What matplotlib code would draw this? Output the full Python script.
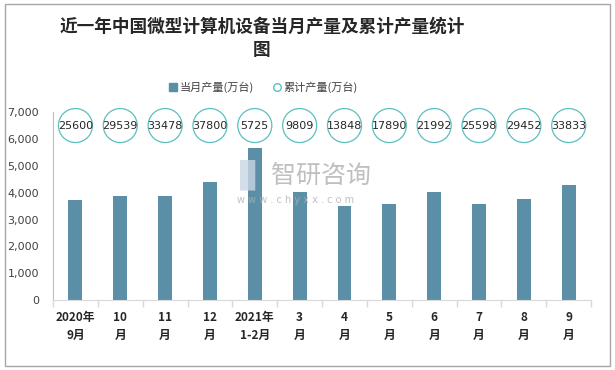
import matplotlib
matplotlib.use('Agg')
import matplotlib.pyplot as plt
from matplotlib.lines import Line2D
from matplotlib.patches import Rectangle

plt.rcParams['font.family'] = ['Noto Sans CJK SC', 'DejaVu Sans']

# data
months = ['2020年\n9月', '10\n月', '11\n月', '12\n月', '2021年\n1-2月', '3\n月',
          '4\n月', '5\n月', '6\n月', '7\n月', '8\n月', '9\n月']
monthly = [3740, 3890, 3890, 4410, 5670, 4010, 3520, 3560, 4040, 3560, 3780, 4300]
cumulative = [25600, 29539, 33478, 37800, 5725, 9809, 13848, 17890, 21992, 25598, 29452, 33833]

bar_color = '#5b8fa8'
circle_color = '#5bbfbf'
axis_color = '#d9d9d9'

fig = plt.figure(figsize=(6.15, 3.7), dpi=100)
fig.patches.append(Rectangle((0.008, 0.012), 0.984, 0.976, transform=fig.transFigure,
                             fill=False, edgecolor='#a6a6a6', linewidth=1))

ax = fig.add_axes([0.0862, 0.189, 0.875, 0.508])
x = list(range(len(months)))
ax.bar(x, monthly, width=0.31, color=bar_color, zorder=2)

# cumulative values shown as circles in a row near the top
circle_y = [6500] * len(cumulative)
ax.scatter(x, circle_y, s=600, facecolors='none', edgecolors=circle_color,
           linewidths=0.9, zorder=3, clip_on=False)
for xi, v in zip(x, cumulative):
    ax.text(xi, 6500, str(v), ha='center', va='center', fontsize=8,
            color='#262626', family='DejaVu Sans', zorder=4)

ax.set_xlim(-0.5, len(months) - 0.5)
ax.set_ylim(0, 7000)
ax.set_yticks(range(0, 7001, 1000))
ax.set_yticklabels(['{:,}'.format(v) for v in range(0, 7001, 1000)],
                   fontsize=8, color='#404040', family='DejaVu Sans')
ax.set_xticks(x)
ax.set_xticklabels(months, fontsize=8.5, fontweight='bold', color='#262626',
                   linespacing=1.5)
ax.set_xticks([i - 0.5 for i in range(len(months) + 1)], minor=True)
ax.tick_params(axis='x', which='major', length=0, pad=8)
ax.tick_params(axis='x', which='minor', length=5, color=axis_color, width=1)
ax.tick_params(axis='y', length=0, pad=10)

for s in ['top', 'right']:
    ax.spines[s].set_visible(False)
ax.spines['left'].set_color('#bfbfbf')
ax.spines['bottom'].set_color(axis_color)

# watermark
fig.text(0.39, 0.52, '\u258c', fontsize=22, color='#c9d6e3', alpha=0.8, va='center')
fig.text(0.44, 0.525, '智研咨询', fontsize=18, color='#b0b0b0', alpha=0.8, va='center')
fig.text(0.385, 0.46, 'w w w . c h y x x . c o m', fontsize=7, color='#b0b0b0',
         family='DejaVu Sans', alpha=0.8, va='center')

fig.text(0.426, 0.896, '近一年中国微型计算机设备当月产量及累计产量统计\n图',
         ha='center', va='center', fontsize=12.7, fontweight='bold',
         color='#262626', linespacing=1.35)

handles = [Line2D([], [], marker='s', linestyle='none', color=bar_color, markersize=5.5),
           Line2D([], [], marker='o', linestyle='none', markerfacecolor='none',
                  markeredgecolor=circle_color, markersize=5.5)]
fig.legend(handles, ['当月产量(万台)', '累计产量(万台)'], loc='center',
           bbox_to_anchor=(0.427, 0.765), ncol=2, frameon=False, fontsize=8,
           handletextpad=0.1, columnspacing=1.6, handlelength=1,
           labelcolor='#404040')

fig.savefig('out.png', dpi=100)
